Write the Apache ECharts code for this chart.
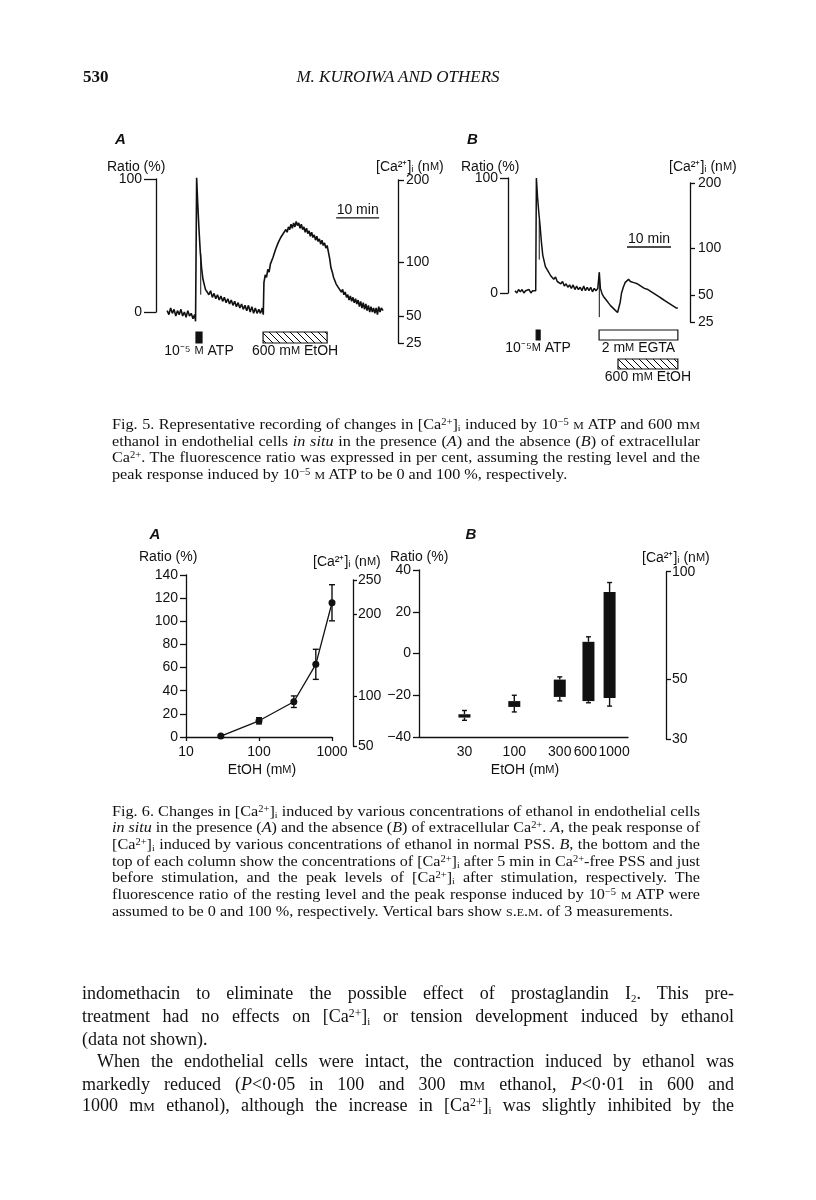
<!DOCTYPE html>
<html>
<head>
<meta charset="utf-8">
<script src="https://cdn.jsdelivr.net/npm/echarts@6.0.0/dist/echarts.min.js"></script>
<style>
html, body { margin: 0; padding: 0; background: #fff; }
#page { position: relative; width: 816px; height: 1200px; overflow: hidden; background: #fff; }
#chart { position: absolute; left: 0; top: 0; width: 816px; height: 1200px; }
.ln { position: absolute; font-family: "Liberation Serif", "Times New Roman", serif; color: #111; white-space: nowrap; transform-origin: 0 0; }
.cap { left: 112px; width: 588px; font-size: 15px; line-height: 16px; }
.body { left: 82px; width: 652px; font-size: 18px; line-height: 22px; }
.j { text-align: justify; text-align-last: justify; }
.sc { font-variant: small-caps; }
sup { font-size: 0.65em; vertical-align: 0.45em; line-height: 0; }
sub { font-size: 0.6em; vertical-align: -0.25em; line-height: 0; }
</style>
</head>
<body>
<div id="page">
  <div id="chart"></div>

  <div class="ln" style="left:83px;top:67px;font-size:17px;line-height:20px;font-weight:bold;">530</div>
  <div class="ln" style="left:248px;width:300px;top:67px;font-size:17px;line-height:20px;text-align:center;font-style:italic;">M. KUROIWA AND OTHERS</div>

  <!-- Fig. 5 caption -->
  <div class="ln cap j" data-s="1.08" data-w="588" style="top:416px;">Fig. 5. Representative recording of changes in [Ca<sup>2+</sup>]<sub>i</sub> induced by 10<sup>−5</sup> <span class="sc">m</span> ATP and 600 m<span class="sc">m</span></div>
  <div class="ln cap j" data-s="1.08" data-w="588" style="top:433px;">ethanol in endothelial cells <i>in situ</i> in the presence (<i>A</i>) and the absence (<i>B</i>) of extracellular</div>
  <div class="ln cap j" data-s="1.08" data-w="588" style="top:449px;">Ca<sup>2+</sup>. The fluorescence ratio was expressed in per cent, assuming the resting level and the</div>
  <div class="ln cap" data-s="1.08" data-w="588" style="top:466px;">peak response induced by 10<sup>−5</sup> <span class="sc">m</span> ATP to be 0 and 100 %, respectively.</div>

  <!-- Fig. 6 caption -->
  <div class="ln cap j" data-s="1.08" data-w="588" style="top:803px;">Fig. 6. Changes in [Ca<sup>2+</sup>]<sub>i</sub> induced by various concentrations of ethanol in endothelial cells</div>
  <div class="ln cap j" data-s="1.08" data-w="588" style="top:819px;"><i>in situ</i> in the presence (<i>A</i>) and the absence (<i>B</i>) of extracellular Ca<sup>2+</sup>. <i>A</i>, the peak response of</div>
  <div class="ln cap j" data-s="1.08" data-w="588" style="top:836px;">[Ca<sup>2+</sup>]<sub>i</sub> induced by various concentrations of ethanol in normal PSS. <i>B</i>, the bottom and the</div>
  <div class="ln cap j" data-s="1.08" data-w="588" style="top:853px;">top of each column show the concentrations of [Ca<sup>2+</sup>]<sub>i</sub> after 5 min in Ca<sup>2+</sup>-free PSS and just</div>
  <div class="ln cap j" data-s="1.08" data-w="588" style="top:869px;">before stimulation, and the peak levels of [Ca<sup>2+</sup>]<sub>i</sub> after stimulation, respectively. The</div>
  <div class="ln cap j" data-s="1.08" data-w="588" style="top:886px;">fluorescence ratio of the resting level and the peak response induced by 10<sup>−5</sup> <span class="sc">m</span> ATP were</div>
  <div class="ln cap" data-s="1.08" data-w="588" style="top:903px;">assumed to be 0 and 100 %, respectively. Vertical bars show <span class="sc">s.e.m.</span> of 3 measurements.</div>

  <!-- running text -->
  <div class="ln body j" data-s="1" data-w="652" style="top:982px;">indomethacin to eliminate the possible effect of prostaglandin I<sub>2</sub>. This pre-</div>
  <div class="ln body j" data-s="1" data-w="652" style="top:1005px;">treatment had no effects on [Ca<sup>2+</sup>]<sub>i</sub> or tension development induced by ethanol</div>
  <div class="ln body" data-s="1" data-w="652" style="top:1028px;">(data not shown).</div>
  <div class="ln body j" data-s="1" data-w="637" style="top:1050px;left:97px;width:637px;">When the endothelial cells were intact, the contraction induced by ethanol was</div>
  <div class="ln body j" data-s="1" data-w="652" style="top:1073px;">markedly reduced (<i>P</i>&lt;0·05 in 100 and 300 m<span class="sc">m</span> ethanol, <i>P</i>&lt;0·01 in 600 and</div>
  <div class="ln body j" data-s="1" data-w="652" style="top:1094px;">1000 m<span class="sc">m</span> ethanol), although the increase in [Ca<sup>2+</sup>]<sub>i</sub> was slightly inhibited by the</div>
</div>

<script>
// ---- Fig. 5A: recording, time (min) vs ratio (%)
const traceA = [
  [2.6,1],[3.0,-2],[3.4,3],[3.8,-1],[4.2,2],[4.6,-3],[5.0,1],[5.4,-2],[5.8,2],[6.2,-3],[6.6,0],[7.0,-4],
  [7.4,1],[7.8,-3],[8.2,-1],[8.6,-5],[9.0,-2],[9.2,-7],[9.45,101],[9.7,82],[10.0,62],[10.3,45],[10.6,33],
  [10.9,25],[11.2,21],[11.5,17],[11.9,17],[12.3,13],[12.7,16],[13.1,11],[13.5,14],[13.9,10],[14.3,13],
  [14.7,9],[15.1,12],[15.5,8],[15.9,11],[16.3,7],[16.7,10],[17.1,6],[17.5,9],[17.9,5],[18.3,8],[18.7,4],
  [19.1,7],[19.5,3],[19.9,6],[20.3,2],[20.7,5],[21.1,1],[21.5,5],[21.9,0],[22.3,4],[22.7,-1],[23.1,3],
  [23.5,-1],[23.9,2],[24.3,-1],[24.7,3],[24.95,-2],[25.1,22],[25.4,28],[25.7,26],[26.0,32],[26.3,30],
  [26.6,36],[26.9,35],[27.2,41],[27.5,42],[27.8,47],[28.1,46],[28.4,52],[28.7,51],[29.0,56],[29.3,55],
  [29.6,59],[29.9,58],[30.2,62],[30.5,60],[30.8,64],[31.1,62],[31.4,66],[31.7,63],[32.0,67],[32.3,64],
  [32.6,68],[32.9,65],[33.2,67],[33.5,63],[33.8,66],[34.1,62],[34.4,64],[34.7,60],[35.0,63],[35.3,59],
  [35.6,61],[35.9,57],[36.2,60],[36.5,56],[36.8,58],[37.1,54],[37.4,57],[37.7,53],[38.0,55],[38.3,51],
  [38.6,54],[38.9,50],[39.2,52],[39.5,48],[39.8,50],[40.1,45],[40.4,40],[40.7,33],[41.0,30],[41.3,26],
  [41.6,25],[41.9,21],[42.2,22],[42.5,18],[42.8,19],[43.1,15],[43.4,17],[43.7,13],[44.0,15],[44.3,11],
  [44.6,13],[44.9,9],[45.2,12],[45.5,8],[45.8,11],[46.1,7],[46.4,10],[46.7,6],[47.0,9],[47.3,4],[47.6,8],
  [47.9,3],[48.2,7],[48.5,2],[48.8,6],[49.1,1],[49.4,5],[49.7,0],[50.0,4],[50.3,0],[50.6,3],[50.9,-1],
  [51.2,3],[51.5,-2],[51.8,4],[52.1,0],[52.4,3],[52.8,1]
];
const artifactA = [[10.4,44],[10.4,13]];
const caTicksA = [200, 100, 50, 25];
const caAtA = [99, 37.6, -3, -23.3];          // ratio (%) where each [Ca2+]i tick sits
const evtStartA = [9.3, 24.9];
const evtEndA = [10.7, 39.8];
const evtRowA = [0, 0];
const evtFillA = ['solid', 'hatch'];
const evtLabelA = ['10⁻⁵ {s|M} ATP', '600 m{s|M} EtOH'];
const scaleBarA = [41.9, 70.7];                 // start (min), level (%)

// ---- Fig. 5B
const traceB = [
  [1.6,2],[2.0,0],[2.4,3],[2.8,1],[3.2,3],[3.6,0],[4.0,2],[4.4,1],[4.8,3],[5.2,0],[5.6,2],[6.0,1],[6.3,2],
  [6.45,100],[6.7,84],[7.0,70],[7.3,58],[7.6,44],[7.9,33],[8.2,28],[8.5,23],[8.8,21],[9.1,19],[9.4,18],
  [9.7,15],[10.0,16],[10.4,12],[10.8,14],[11.2,10],[11.6,11],[12.0,8],[12.4,10],[12.8,6],[13.2,8],[13.6,5],
  [14.0,7],[14.4,4],[14.8,7],[15.2,3],[15.6,6],[16.0,3],[16.4,5],[16.8,2],[17.2,6],[17.6,2],[18.0,5],
  [18.4,2],[18.8,5],[19.2,1],[19.6,4],[20.0,2],[20.4,4],[20.6,3],[20.75,18],[21.0,4],[21.4,-1],[21.7,-3],
  [22.1,-5],[22.5,-7],[22.9,-9],[23.3,-11],[23.7,-12],[24.1,-14],[24.5,-15],[24.9,-17],[25.2,-18],
  [25.5,-8],[25.8,0],[26.2,5],[26.6,9],[27.0,10],[27.4,12],[27.8,10],[28.2,11],[28.6,9],[29.0,10],
  [29.4,8],[29.8,8],[30.2,6],[30.6,7],[31.0,4],[31.4,5],[31.8,3],[32.2,4],[32.6,1],[33.0,2],[33.4,-1],
  [33.8,0],[34.2,-3],[34.6,-2],[35.0,-5],[35.4,-4],[35.8,-7],[36.2,-6],[36.6,-9],[37.0,-8],[37.4,-11],
  [37.8,-10],[38.2,-13],[38.6,-13]
];
const artifactB1 = [[7.1,63],[7.1,29]];
const artifactB2 = [[20.75,18],[20.75,-21]];
const caTicksB = [200, 100, 50, 25];
const caAtB = [95.7, 39.1, -1.7, -25.2];
const evtStartB = [6.4, 20.7, 25.0];
const evtEndB = [7.3, 38.6, 38.6];
const evtRowB = [0, 0, 1];
const evtFillB = ['solid', 'open', 'hatch'];
const evtLabelB = ['10⁻⁵{s|M} ATP', '2 m{s|M} EGTA', '600 m{s|M} EtOH'];
const scaleBarB = [27.05, 40];

// ---- Fig. 6A: peak response vs EtOH (mM)
const concA = [30, 100, 300, 600, 1000];
const peakA = [0.8, 14, 30.5, 62.8, 116];
const semA = [0, 2.7, 5, 13, 15.6];
const caTicks6A = [250, 200, 100, 50];
const caAt6A = [135.7, 106.3, 35.4, -7.8];

// ---- Fig. 6B: column bottom / top with s.e.m.
const concB = [30, 100, 300, 600, 1000];
const bottomB = [-30.7, -25.6, -20.8, -22.8, -21.3];
const topB = [-29.1, -22.8, -12.5, 5.6, 29.5];
const errLoB = [-32, -28, -22.7, -23.6, -25.2];
const errHiB = [-27.3, -20, -11.2, 8, 34];
const caTicks6B = [100, 50, 30];
const caAt6B = [39.1, -12.5, -41.2];

const INK = '#111';
const FONT = '"Liberation Sans", Arial, sans-serif';

// stretch / justify each printed line to its measure
function fitLines() {
  document.querySelectorAll('.ln[data-s]').forEach(el => {
    const pref = parseFloat(el.dataset.s);
    const target = parseFloat(el.dataset.w);
    const just = el.classList.contains('j');
    el.style.transform = 'none';
    el.style.width = 'auto';
    el.style.display = 'inline-block';
    el.style.textAlign = 'left';
    el.style.textAlignLast = 'auto';
    const w = el.getBoundingClientRect().width;
    let s = pref;
    if (just) {
      s = Math.min(pref, target / w);
      el.style.width = (target / s) + 'px';
      el.style.textAlign = 'justify';
      el.style.textAlignLast = 'justify';
      el.style.display = 'block';
    }
    el.style.transform = 'scaleX(' + s + ')';
  });
}
fitLines();
if (document.fonts && document.fonts.ready) document.fonts.ready.then(fitLines);

// hatch fill for ethanol bars
const hc = document.createElement('canvas');
hc.width = 7; hc.height = 7;
const g = hc.getContext('2d');
g.fillStyle = '#fff'; g.fillRect(0, 0, 7, 7);
g.strokeStyle = '#000'; g.lineWidth = 1;
g.beginPath();
g.moveTo(0, 0); g.lineTo(7, 7);
g.moveTo(-1, 6); g.lineTo(1, 8);
g.moveTo(6, -1); g.lineTo(8, 1);
g.stroke();
const HATCH = { image: hc, repeat: 'repeat' };

function nearest(arr, v) {
  let k = 0;
  arr.forEach((a, i) => { if (Math.abs(a - v) < Math.abs(arr[k] - v)) k = i; });
  return k;
}

function hiddenX(gi, min, max) {
  return { type: 'value', gridIndex: gi, min: min, max: max, show: false };
}
function hiddenY(gi, min, max, inverse) {
  return { type: 'value', gridIndex: gi, min: min, max: max, show: false, inverse: !!inverse };
}
function leftAxis(gi, min, max, interval, tickLen, margin) {
  return {
    type: 'value', gridIndex: gi, position: 'left', min: min, max: max, interval: interval,
    splitLine: { show: false },
    axisLine: { show: true, onZero: false, lineStyle: { color: INK, width: 1.3 } },
    axisTick: { show: true, length: tickLen, lineStyle: { color: INK, width: 1.3 } },
    axisLabel: { color: INK, fontSize: 14, fontFamily: FONT, margin: margin,
      formatter: v => String(v).replace('-', '−') }
  };
}
function calAxis(gi, at, ticks, tickLen, margin) {
  return {
    type: 'value', gridIndex: gi, position: 'right',
    min: Math.min.apply(null, at), max: Math.max.apply(null, at),
    splitLine: { show: false },
    axisLine: { show: true, onZero: false, lineStyle: { color: INK, width: 1.3 } },
    axisTick: { show: true, length: tickLen, customValues: at, lineStyle: { color: INK, width: 1.3 } },
    axisLabel: { color: INK, fontSize: 14, fontFamily: FONT, margin: margin, customValues: at,
      formatter: v => String(ticks[nearest(at, v)]) }
  };
}

function eventRender(labels, fills, barH) {
  return function (params, api) {
    const i = params.dataIndex;
    const s = api.coord([api.value(0), api.value(2)]);
    const e = api.coord([api.value(1), api.value(2)]);
    const f = fills[i] === 'solid' ? INK : (fills[i] === 'hatch' ? HATCH : '#fff');
    return {
      type: 'group',
      children: [
        { type: 'rect', shape: { x: s[0], y: s[1], width: e[0] - s[0], height: barH },
          style: { fill: f, stroke: INK, lineWidth: 1.2 } },
        { type: 'text', style: {
            text: labels[i], x: (s[0] + e[0]) / 2, y: s[1] + barH + 1,
            align: 'center', verticalAlign: 'top', fill: INK, fontSize: 14, fontFamily: FONT,
            rich: { s: { fontSize: 11, fontFamily: FONT, fill: INK } } } }
      ]
    };
  };
}

function scaleRender(params, api) {
  const a = api.coord([api.value(0), api.value(1)]);
  const b = api.coord([api.value(0) + 10, api.value(1)]);
  return {
    type: 'group',
    children: [
      { type: 'line', shape: { x1: a[0], y1: a[1], x2: b[0], y2: b[1] }, style: { stroke: INK, lineWidth: 1.3 } },
      { type: 'text', style: { text: '10 min', x: (a[0] + b[0]) / 2, y: a[1] - 1, align: 'center',
          verticalAlign: 'bottom', fill: INK, fontSize: 14, fontFamily: FONT } }
    ]
  };
}

function errRender(params, api) {
  const x = api.value(0);
  const lo = api.coord([x, api.value(1)]);
  const hi = api.coord([x, api.value(2)]);
  const c = 3;
  const st = { stroke: INK, lineWidth: 1.4 };
  return {
    type: 'group',
    children: [
      { type: 'line', shape: { x1: lo[0], y1: lo[1], x2: hi[0], y2: hi[1] }, style: st },
      { type: 'line', shape: { x1: lo[0] - c, y1: lo[1], x2: lo[0] + c, y2: lo[1] }, style: st },
      { type: 'line', shape: { x1: hi[0] - c, y1: hi[1], x2: hi[0] + c, y2: hi[1] }, style: st }
    ]
  };
}

function columnRender(params, api) {
  const x = api.value(0);
  const pb = api.coord([x, api.value(1)]);
  const pt = api.coord([x, api.value(2)]);
  const pl = api.coord([x, api.value(3)]);
  const ph = api.coord([x, api.value(4)]);
  const w = 12, c = 2.5;
  const st = { stroke: INK, lineWidth: 1.4 };
  return {
    type: 'group',
    children: [
      { type: 'line', shape: { x1: pt[0], y1: pt[1], x2: ph[0], y2: ph[1] }, style: st },
      { type: 'line', shape: { x1: ph[0] - c, y1: ph[1], x2: ph[0] + c, y2: ph[1] }, style: st },
      { type: 'line', shape: { x1: pb[0], y1: pb[1], x2: pl[0], y2: pl[1] }, style: st },
      { type: 'line', shape: { x1: pl[0] - c, y1: pl[1], x2: pl[0] + c, y2: pl[1] }, style: st },
      { type: 'rect', shape: { x: pt[0] - w / 2, y: pt[1], width: w, height: Math.max(pb[1] - pt[1], 2.5) },
        style: { fill: INK } }
    ]
  };
}

function label(x, y, text, align, extra) {
  return {
    type: 'text', x: x, y: y, silent: true,
    style: Object.assign({ text: text, align: align || 'left', verticalAlign: 'middle', fill: INK,
      fontSize: 14, fontFamily: FONT, rich: { s: { fontSize: 11, fontFamily: FONT, fill: INK } } }, extra || {})
  };
}
const caName = '[Ca²⁺]ᵢ (n{s|M})';
const panel = { fontSize: 15, fontStyle: 'italic', fontWeight: 'bold' };

const grids = [
  { left: 156, top: 179, width: 242, height: 133 },    // 0 fig5A trace
  { left: 300, top: 180, width: 98, height: 163 },     // 1 fig5A calibration
  { left: 156, top: 332, width: 242, height: 20 },     // 2 fig5A events
  { left: 508, top: 178, width: 182, height: 115 },    // 3 fig5B trace
  { left: 600, top: 183, width: 90, height: 139 },     // 4 fig5B calibration
  { left: 508, top: 330, width: 182, height: 29 },     // 5 fig5B events
  { left: 186, top: 575, width: 146, height: 162 },    // 6 fig6A
  { left: 300, top: 580, width: 53, height: 166 },     // 7 fig6A calibration
  { left: 419, top: 570, width: 209, height: 167 },    // 8 fig6B
  { left: 600, top: 571.7, width: 66, height: 167.6 }  // 9 fig6B calibration
].map(gr => Object.assign({ containLabel: false, outerBoundsMode: 'none', show: false }, gr));

const labelNudge = {
  l: { padding: [0, 6, 0, 0], fontSize: 14, fontFamily: FONT, color: INK },
  r: { padding: [0, 0, 0, 9], fontSize: 14, fontFamily: FONT, color: INK }
};

const option = {
  animation: false,
  backgroundColor: 'transparent',
  textStyle: { fontFamily: FONT, color: INK },
  grid: grids,
  xAxis: [
    hiddenX(0, 0, 56.28),
    hiddenX(1, 0, 1),
    hiddenX(2, 0, 56.28),
    hiddenX(3, 0, 41.36),
    hiddenX(4, 0, 1),
    hiddenX(5, 0, 41.36),
    {
      type: 'log', logBase: 10, gridIndex: 6, min: 10, max: 1000,
      splitLine: { show: false }, minorTick: { show: false },
      axisLine: { show: true, onZero: false, lineStyle: { color: INK, width: 1.3 } },
      axisTick: { show: true, length: 4, lineStyle: { color: INK, width: 1.3 } },
      axisLabel: { color: INK, fontSize: 14, fontFamily: FONT, margin: 8, formatter: v => String(v) }
    },
    hiddenX(7, 0, 1),
    {
      type: 'log', logBase: 10, gridIndex: 8, min: 10, max: 1560,
      splitLine: { show: false }, minorTick: { show: false },
      axisLine: { show: true, onZero: false, lineStyle: { color: INK, width: 1.3 } },
      axisTick: { show: false },
      axisLabel: { color: INK, fontSize: 14, fontFamily: FONT, margin: 8, customValues: concB,
        hideOverlap: false, showMinLabel: true, showMaxLabel: true, rich: labelNudge,
        formatter: v => {
          const t = String(Math.round(v));
          return t === '600' ? '{l|600}' : (t === '1000' ? '{r|1000}' : t);
        } }
    },
    hiddenX(9, 0, 1)
  ],
  yAxis: [
    leftAxis(0, 0, 100, 100, 12, 14),
    calAxis(1, caAtA, caTicksA, 6, 8),
    hiddenY(2, 0, 1, true),
    leftAxis(3, 0, 100, 100, 8, 10),
    calAxis(4, caAtB, caTicksB, 5, 8),
    hiddenY(5, 0, 1, true),
    leftAxis(6, 0, 140, 20, 6, 8),
    calAxis(7, caAt6A, caTicks6A, 4, 5),
    leftAxis(8, -40, 40, 20, 6, 8),
    calAxis(9, caAt6B, caTicks6B, 5, 6)
  ],
  series: [
    { type: 'line', xAxisIndex: 0, yAxisIndex: 0, data: traceA, showSymbol: false, clip: false,
      lineStyle: { color: INK, width: 1.6 } },
    { type: 'line', xAxisIndex: 0, yAxisIndex: 0, data: artifactA, showSymbol: false, clip: false,
      lineStyle: { color: INK, width: 1 } },
    { type: 'custom', xAxisIndex: 0, yAxisIndex: 0, data: [scaleBarA], renderItem: scaleRender, clip: false },
    { type: 'custom', xAxisIndex: 2, yAxisIndex: 2, clip: false,
      data: evtStartA.map((s, i) => [s, evtEndA[i], evtRowA[i]]),
      renderItem: eventRender(evtLabelA, evtFillA, 11) },

    { type: 'line', xAxisIndex: 3, yAxisIndex: 3, data: traceB, showSymbol: false, clip: false,
      lineStyle: { color: INK, width: 1.5 } },
    { type: 'line', xAxisIndex: 3, yAxisIndex: 3, data: artifactB1, showSymbol: false, clip: false,
      lineStyle: { color: INK, width: 1 } },
    { type: 'line', xAxisIndex: 3, yAxisIndex: 3, data: artifactB2, showSymbol: false, clip: false,
      lineStyle: { color: INK, width: 1 } },
    { type: 'custom', xAxisIndex: 3, yAxisIndex: 3, data: [scaleBarB], renderItem: scaleRender, clip: false },
    { type: 'custom', xAxisIndex: 5, yAxisIndex: 5, clip: false,
      data: evtStartB.map((s, i) => [s, evtEndB[i], evtRowB[i]]),
      renderItem: eventRender(evtLabelB, evtFillB, 10) },

    { type: 'custom', xAxisIndex: 6, yAxisIndex: 6, clip: false,
      data: concA.map((c, i) => [c, peakA[i] - semA[i], peakA[i] + semA[i]]),
      renderItem: errRender },
    { type: 'line', xAxisIndex: 6, yAxisIndex: 6, data: concA.map((c, i) => [c, peakA[i]]), clip: false,
      symbol: 'circle', symbolSize: 7, itemStyle: { color: INK }, lineStyle: { color: INK, width: 1.3 } },

    { type: 'custom', xAxisIndex: 8, yAxisIndex: 8, clip: false,
      data: concB.map((c, i) => [c, bottomB[i], topB[i], errLoB[i], errHiB[i]]),
      renderItem: columnRender }
  ],
  graphic: [
    label(120.5, 139.5, 'A', 'center', panel),
    label(472.5, 139.5, 'B', 'center', panel),
    label(107, 167, 'Ratio (%)'),
    label(376, 167, caName),
    label(461, 167, 'Ratio (%)'),
    label(669, 167, caName),

    label(155, 535, 'A', 'center', panel),
    label(471, 535, 'B', 'center', panel),
    label(139, 557, 'Ratio (%)'),
    label(313, 562, caName),
    label(390, 557, 'Ratio (%)'),
    label(642, 558, caName),
    label(262, 770, 'EtOH (m{s|M})', 'center'),
    label(525, 770, 'EtOH (m{s|M})', 'center')
  ]
};

const chart = echarts.init(document.getElementById('chart'), null, { renderer: 'canvas' });
chart.setOption(option);
</script>
</body>
</html>
